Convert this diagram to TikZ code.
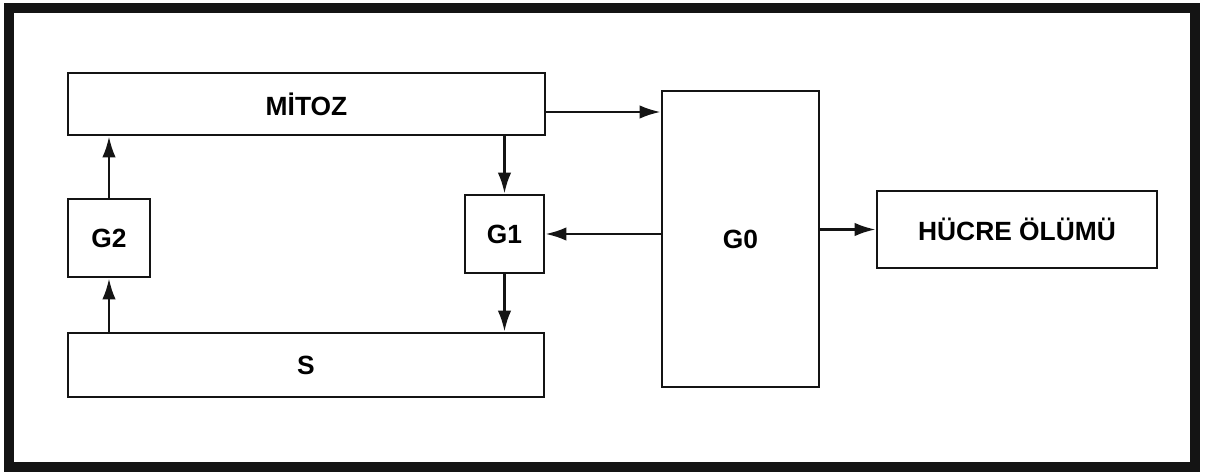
\documentclass[tikz,border=0pt]{standalone}
\usepackage{fontspec}
\setmainfont{Liberation Sans}
\usepackage{tikz}
\usetikzlibrary{arrows.meta}
\definecolor{inkBlack}{RGB}{20, 20, 20}

\tikzset{
  phaseBox/.style={draw=inkBlack, line width=1.6pt, inner sep=0pt,
    font=\fontsize{15}{17}\selectfont\bfseries},
  flowArrow/.style={draw=inkBlack, line width=1.5pt,
    -{Latex[length=0.42cm,width=0.27cm]}}
}

\begin{document}
\begin{tikzpicture}
      \useasboundingbox (0,0) rectangle (24.18,9.5);
      % outer frame
      \draw[inkBlack, line width=5.7pt] (0.18,0.16) rectangle (23.9,9.34);

      % cycle boxes
      \node[phaseBox, minimum width=9.54cm, minimum height=1.24cm] (mitoz) at (6.13,7.42) {MİTOZ};
      \node[phaseBox, minimum width=9.52cm, minimum height=1.28cm] (s) at (6.12,2.2) {S};
      \node[phaseBox, minimum width=1.64cm, minimum height=1.56cm] (g2) at (2.18,4.74) {G2};
      \node[phaseBox, minimum width=1.58cm, minimum height=1.56cm] (g1) at (10.09,4.82) {G1};

      % resting phase and exit
      \node[phaseBox, minimum width=3.14cm, minimum height=5.92cm] (g0) at (14.81,4.72) {G0};
      \node[phaseBox, minimum width=5.6cm, minimum height=1.54cm] (hucre) at (20.34,4.91) {HÜCRE ÖLÜMÜ};

      \draw[flowArrow] (s.north -| g2) -- (g2.south);
      \draw[flowArrow] (g2.north) -- (g2 |- mitoz.south);
      \draw[flowArrow] (mitoz.south -| g1) -- (g1.north);
      \draw[flowArrow] (g1.south) -- (g1 |- s.north);

      % mitoz leaves into G0, just below its middle
      \coordinate (mitozout) at ([yshift=-0.16cm]mitoz.east);
      \draw[flowArrow] (mitozout) -- (mitozout -| g0.west);
      \draw[flowArrow] (g0.west |- g1) -- (g1.east);
      \draw[flowArrow] (g0.east |- hucre) -- (hucre.west);
    \end{tikzpicture}
\end{document}
